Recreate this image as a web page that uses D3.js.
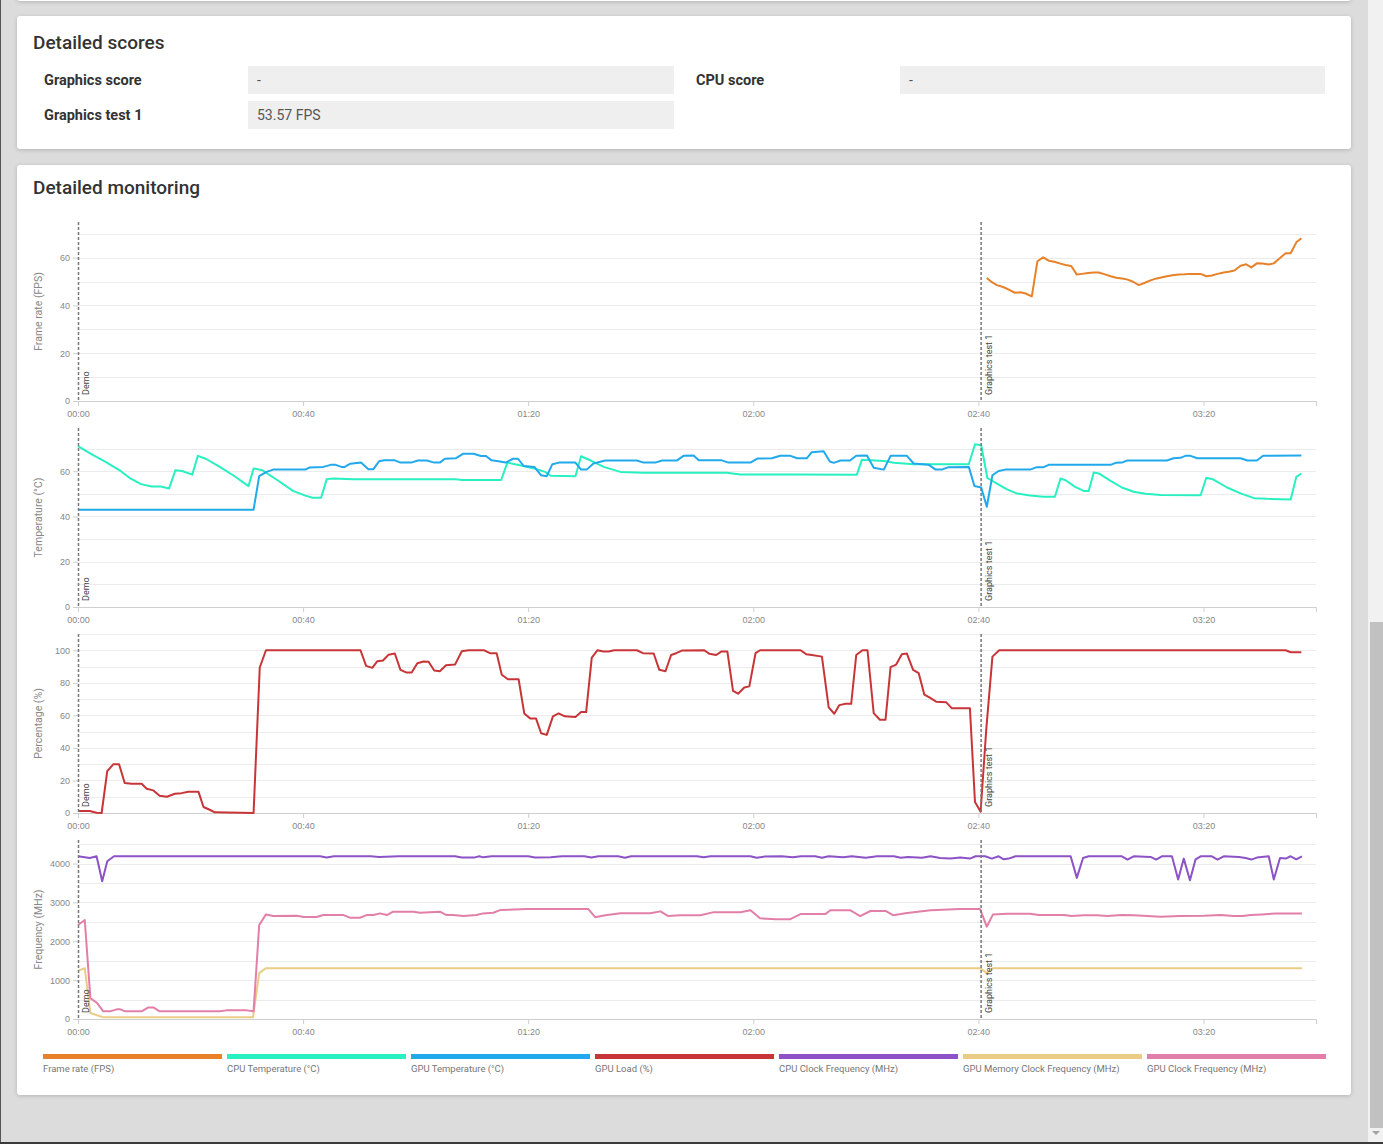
<!DOCTYPE html>
<html lang="en">
<head>
<meta charset="UTF-8">
<title>Detailed monitoring</title>
<script src="https://cdn.jsdelivr.net/npm/d3@7"></script>
<style>
html, body { margin: 0; padding: 0; }
body { width: 1383px; height: 1144px; background: #dcdcdc; position: relative; overflow: hidden; font-family: Roboto, "Open Sans", sans-serif; }
.panel { position: absolute; left: 17px; width: 1334px; background: #fff; border-radius: 3px; box-shadow: 0 1px 4px rgba(0,0,0,0.18); }
.title { position: absolute; left: 16px; font-size: 19px; font-weight: 500; color: #333; line-height: 24px; }
.lbl { position: absolute; font-size: 14.5px; font-weight: 700; color: #333; line-height: 28px; }
.box { position: absolute; height: 28px; background: #efefef; font-size: 14px; color: #555; line-height: 28px; padding-left: 9px; box-sizing: border-box; }
#scroll { position: absolute; left: 1368px; top: 0; width: 15px; height: 1144px; background: #f1f1f1; }
#thumb { position: absolute; left: 2px; top: 622px; width: 13px; height: 506px; background: #c1c1c1; }
#arrow { position: absolute; left: 4px; top: 1131px; width: 0; height: 0; border-left: 4px solid transparent; border-right: 4px solid transparent; border-top: 4px solid #a3a3a3; }
#edgeB { position: absolute; left: 0; bottom: 0; width: 1383px; height: 2px; background: #3a3a3a; }
#edgeL { position: absolute; left: 0; top: 0; width: 1px; height: 1144px; background: #555; }
</style>
</head>
<body>
<div class="panel" style="top:-30px; height:31px;"></div>

<div class="panel" id="scores" style="top:16px; height:133px;">
  <div class="title" style="top:15px;">Detailed scores</div>
  <div class="lbl" style="left:27px; top:51px;">Graphics score</div>
  <div class="box" style="left:231px; top:50px; width:426px;">-</div>
  <div class="lbl" style="left:679px; top:51px;">CPU score</div>
  <div class="box" style="left:883px; top:50px; width:425px;">-</div>
  <div class="lbl" style="left:27px; top:86px;">Graphics test 1</div>
  <div class="box" style="left:231px; top:85px; width:426px;">53.57 FPS</div>
</div>

<div class="panel" id="monitor" style="top:165px; height:930px;">
  <div class="title" style="top:11px;">Detailed monitoring</div>
</div>

<div id="scroll"><div id="thumb"></div><div id="arrow"></div></div>
<div id="edgeL"></div>
<div id="edgeB"></div>

<script>
// samples are [seconds, value]
const fps = [[161.5,51.5],[162.4,49.7],[163.3,48.5],[164.5,47.6],[165.4,46.6],[166.5,45.3],[167.5,45.5],[168.4,45.0],[169.5,43.8],[170.5,58.5],[171.5,60.1],[172.5,58.7],[173.5,58.3],[174.6,57.5],[175.5,56.9],[176.5,56.5],[177.5,52.9],[178.4,53.2],[179.5,53.6],[180.5,53.8],[181.4,53.8],[182.5,53.0],[183.5,52.2],[184.5,51.6],[185.5,51.3],[186.4,50.9],[187.5,49.9],[188.5,48.5],[189.6,49.5],[190.6,50.5],[191.5,51.2],[192.5,51.7],[193.5,52.2],[194.5,52.6],[195.6,52.9],[196.6,53.0],[197.7,53.2],[198.6,53.2],[199.5,53.2],[200.5,52.2],[201.5,52.5],[202.5,53.2],[203.6,53.8],[204.5,54.1],[205.5,54.6],[206.6,56.6],[207.6,57.2],[208.5,55.9],[209.5,57.6],[210.5,57.5],[211.6,57.1],[212.5,57.6],[213.5,59.6],[214.6,61.8],[215.5,61.8],[216.5,66.4],[217.4,68.1]];

const cpuTemp = [[0,71.1],[2.3,67.7],[4.9,64.1],[7.4,60.4],[9.3,56.8],[11.2,54.3],[13.1,53.2],[14.7,53.2],[16.2,52.4],[17.3,60.4],[18.5,60.1],[20.3,58.5],[21.3,66.8],[22.7,65.5],[25.2,61.9],[27.7,58.0],[30.3,53.4],[31.2,61.2],[32.8,60.4],[35.4,56.1],[38.2,51.3],[40.4,49.2],[41.7,48.3],[43.2,48.3],[44.2,56.5],[45.5,56.8],[48.7,56.4],[67.1,56.4],[68.3,56.1],[75.2,56.1],[76.3,63.8],[78.5,62.6],[81.1,61.2],[83.0,59.7],[84.0,58.0],[88.4,57.8],[89.4,66.6],[91.3,64.5],[93.4,61.9],[96.4,59.7],[100.5,59.3],[115.3,59.3],[117.7,58.5],[127.2,58.5],[138.4,58.4],[139.3,65.1],[143.2,64.5],[145,63.7],[148.5,63.1],[158.3,63.1],[159.4,71.9],[160.5,71.5],[161.6,57.0],[163.3,54.5],[165.1,52.0],[166.9,50.1],[169.2,49.3],[171.6,48.7],[173.6,48.7],[174.6,56.8],[175.5,56.0],[177.2,53.1],[178.7,51.3],[179.6,51.2],[180.5,59.4],[181.4,59.0],[183.5,55.7],[185.5,52.8],[187.6,50.9],[189.7,50.0],[192.4,49.5],[199.5,49.4],[200.5,57.1],[201.8,56.3],[204.2,52.8],[206.6,50.2],[209,48.1],[211.3,47.8],[215.5,47.5],[216.5,57.5],[217.4,59.0]];

const gpuTemp = [[0,43],[31.2,43],[32.2,57.8],[33.5,59.7],[34.7,60.7],[40.4,60.7],[41.1,61.6],[43.6,61.9],[44.9,62.8],[45.8,62.8],[46.8,61.9],[47.4,61.9],[48.4,63.3],[50.3,63.8],[51.6,60.9],[52.5,60.9],[53.5,64.4],[54.4,64.8],[56.3,64.8],[57.3,63.8],[59.2,63.8],[60.4,64.7],[62.0,64.7],[63.3,63.8],[64.3,63.8],[65.2,65.5],[67.1,65.7],[68.4,67.7],[70.3,67.7],[71.6,66.7],[72.5,66.7],[73.5,64.8],[74.7,64.4],[76.0,63.8],[77.3,65.5],[78.2,65.5],[79.2,62.3],[81.1,61.9],[82.3,58.2],[83.3,57.8],[84.3,63.1],[85.5,63.8],[88.4,63.8],[89.4,60.7],[90.4,60.7],[91.6,63.4],[93.7,64.7],[99.3,64.7],[100.5,63.8],[102.6,63.8],[103.8,64.7],[106.4,64.7],[107.6,66.8],[109.4,66.9],[110.3,64.8],[114.4,64.8],[115.6,63.8],[119.5,63.8],[120.7,65.6],[123.3,65.7],[124.8,66.8],[126.6,66.8],[127.8,65.7],[129.5,65.7],[130.4,68.4],[132.5,68.8],[133.6,64.3],[134.3,63.7],[135.5,64.7],[137.2,64.7],[138.3,66.8],[140.2,66.9],[141.4,61.5],[143.2,60.7],[144.4,66.8],[147.3,66.8],[148.5,63.4],[151.2,62.8],[152.4,60.7],[153.5,60.7],[154.7,61.8],[158.3,61.9],[159.3,53.5],[160.5,52.8],[161.5,44.3],[162.5,58.2],[163.6,60.1],[164.8,60.7],[169.2,60.7],[170.4,61.8],[171.6,61.8],[172.5,62.8],[183.5,62.8],[184.4,63.7],[185.5,63.8],[186.4,64.7],[193.5,64.7],[194.7,65.7],[195.9,65.9],[196.8,66.8],[197.7,66.8],[198.9,65.7],[206.6,65.7],[207.8,64.7],[209.5,64.7],[210.6,66.8],[217.4,66.9]];

const gpuLoad = [[0,1.2],[2.1,1.2],[3.3,0.2],[4.2,0],[5.2,25.7],[6.3,30],[7.3,30],[8.3,18.4],[9.5,18],[11.3,18],[12.2,14.9],[13.4,13.9],[14.5,10.6],[15.8,10],[17.2,11.8],[18.4,12.2],[19.6,13.1],[21.4,13.1],[22.3,3.7],[23.4,2.0],[24.3,0.4],[31.2,0],[32.3,89.4],[33.4,100],[50.2,100],[51.2,90.4],[52.3,89.2],[53.2,93.3],[54.2,93.7],[55.2,97.3],[56.3,98],[57.3,88],[58.4,86.3],[59.3,86.3],[60.3,92],[61.4,93.1],[62.3,92.9],[63.3,87.6],[64.3,87.1],[65.4,90.8],[67.0,91.2],[68.2,99.4],[69.4,100],[72.2,100],[73.2,98.2],[74.4,98.2],[75.3,85],[76.4,82.2],[78.3,82.2],[79.3,61.2],[80.4,58],[81.4,58],[82.3,49],[83.3,48],[84.4,59.4],[85.4,61.2],[86.5,59.4],[88.4,59],[89.4,62],[90.3,62],[91.3,95.5],[92.3,100],[93.4,99.2],[94.3,99.2],[95.3,100],[99.3,100],[100.4,98.2],[102.3,98],[103.3,88],[104.4,87.1],[105.4,97.1],[106.3,98.2],[107.3,99.8],[111.3,100],[112.2,97.8],[113.4,97.1],[114.3,99.2],[115.4,99.2],[116.4,75.1],[117.3,73.3],[118.4,77.1],[119.3,77.8],[120.4,98.2],[121.2,100],[128.4,100],[129.4,97.6],[130.4,97.1],[132.2,96.1],[133.4,64.9],[134.4,61],[135.3,66.3],[136.4,67.1],[137.4,67.1],[138.3,97.1],[139.4,100],[140.3,100],[141.4,61.4],[142.5,57.3],[143.5,57.3],[144.4,89.6],[145.4,91.2],[146.4,97.6],[147.3,98],[148.4,88],[149.4,85.9],[150.4,72.7],[151.3,71],[152.5,68.4],[154.3,68],[155.3,64.3],[158.5,64.3],[159.4,6.7],[160.4,0.8],[161.4,51.2],[162.5,96.1],[163.7,100],[214.6,100],[215.5,98.8],[217.4,98.8]];

const cpuClock = [[0,4188],[2.1,4145],[3.3,4188],[4.3,3547],[5.2,4060],[6.4,4188],[43,4188],[44.2,4154],[45.5,4188],[52,4188],[53.5,4171],[57,4188],[67,4188],[68.2,4154],[70.4,4154],[71.3,4188],[72,4160],[73.5,4188],[80,4188],[81.2,4154],[84,4160],[86,4188],[90,4188],[91.2,4154],[92.5,4188],[96,4188],[97.2,4150],[98.3,4188],[110,4188],[111.2,4160],[112.4,4188],[119.5,4188],[120.6,4150],[122,4180],[125,4188],[127,4160],[128.5,4188],[131,4188],[132.2,4150],[133.4,4188],[136,4160],[137.5,4188],[140,4150],[142,4188],[145,4188],[146.2,4150],[147.5,4170],[150,4150],[151.5,4188],[153.2,4145],[155.0,4128],[156.8,4154],[158.5,4128],[159.5,4188],[161.2,4188],[162.4,4128],[163.6,4188],[164.5,4111],[165.4,4128],[166.6,4188],[176.4,4188],[177.5,3632],[178.6,4145],[179.6,4188],[185.5,4188],[186.5,4103],[187.6,4188],[190.6,4171],[191.6,4103],[192.6,4188],[194.4,4188],[195.5,3590],[196.5,4128],[197.6,3573],[198.6,4111],[199.5,4188],[201.5,4188],[202.5,4103],[203.6,4188],[206.3,4171],[207.5,4145],[208.5,4103],[209.5,4154],[211.6,4188],[212.5,3590],[213.6,4145],[214.6,4128],[215.5,4188],[216.5,4111],[217.5,4188]];

const gpuMemClock = [[0,1239],[1.2,1308],[2.2,154],[4.5,43],[31.1,43],[32.2,1180],[33.4,1308],[160.3,1308],[161.5,1180],[162.6,1308],[217.5,1308]];

const gpuClock = [[0,2419],[1.2,2547],[2.2,538],[3.4,410],[4.5,197],[5.7,197],[6.9,248],[7.5,248],[8.4,197],[11.3,197],[12.5,299],[13.4,299],[14.5,197],[25.2,197],[26.4,222],[30,222],[31.2,197],[32.2,2419],[33.4,2692],[34.7,2650],[38.9,2658],[40.1,2624],[42.4,2624],[43.6,2675],[47.2,2675],[48.3,2607],[50.1,2607],[51.3,2675],[52.5,2675],[53.7,2718],[54.9,2675],[56.0,2761],[59.6,2761],[60.8,2735],[64.3,2761],[65.5,2675],[66.7,2675],[68.5,2650],[70.8,2675],[72.0,2718],[73.8,2735],[75.0,2803],[79.8,2829],[90.7,2829],[91.9,2620],[93.7,2670],[96.4,2720],[101.7,2720],[103.5,2770],[104.9,2650],[107,2670],[110.6,2670],[113,2750],[117.7,2750],[119.5,2800],[121.2,2590],[124,2570],[126.6,2570],[128.4,2700],[132.8,2700],[133.7,2800],[137.2,2800],[139,2650],[140.8,2780],[143.5,2780],[144.9,2670],[147,2720],[151.5,2800],[156.8,2829],[160.3,2829],[161.5,2376],[162.6,2692],[165.1,2709],[169.2,2709],[170.7,2675],[175.2,2675],[176.6,2650],[178.7,2667],[181.1,2667],[182.9,2650],[185.5,2675],[187.6,2667],[190.0,2650],[192.3,2632],[195.9,2650],[200.1,2658],[203.0,2675],[205.4,2650],[206.9,2650],[208.4,2675],[210.4,2692],[213.1,2718],[217.5,2718]];

const seriesNames = ["Frame rate (FPS)", "CPU Temperature (°C)", "GPU Temperature (°C)", "GPU Load (%)", "CPU Clock Frequency (MHz)", "GPU Memory Clock Frequency (MHz)", "GPU Clock Frequency (MHz)"];
const seriesData = [fps, cpuTemp, gpuTemp, gpuLoad, cpuClock, gpuMemClock, gpuClock];
const seriesColors = ["#e8822a", "#28f0c0", "#22a9ec", "#c83538", "#8c52c6", "#eacc86", "#e27fa8"];

const chartTitles = ["Frame rate (FPS)", "Temperature (°C)", "Percentage (%)", "Frequency (MHz)"];
const chartSeries = [[0], [1, 2], [3], [4, 5, 6]];
const chartTickStep = [20, 20, 20, 1000];

const markerNames = ["Demo", "Graphics test 1"];
const markerTimes = [0, 160.4];
const timeTicks = [0, 40, 80, 120, 160, 200];
const timeEnd = 220;

const svg = d3.select("#monitor").append("svg")
    .attr("width", 1334).attr("height", 930)
    .style("position", "absolute").style("left", 0).style("top", 0)
    .style("font-family", "Roboto, 'Open Sans', sans-serif");

const x = d3.scaleLinear().domain([0, timeEnd]).range([61, 1299]);
const two = d3.format("02d");
const mmss = s => two(Math.floor(s / 60)) + ":" + two(s % 60);

chartTitles.forEach((title, i) => {
    const bottom = 236 + 206 * i;
    const top = bottom - 179;
    const ymax = d3.max(chartSeries[i], k => d3.max(seriesData[k], d => d[1])) * 1.1;
    const y = d3.scaleLinear().domain([0, ymax]).range([bottom, top]);
    const step = chartTickStep[i];
    const g = svg.append("g");

    // grid every half tick step
    g.selectAll("line.grid")
        .data(d3.range(step / 2, ymax, step / 2))
        .join("line")
        .attr("x1", x(0)).attr("x2", x(timeEnd))
        .attr("y1", d => Math.round(y(d)) + 0.5).attr("y2", d => Math.round(y(d)) + 0.5)
        .attr("stroke", "#ebebeb");

    const xa = g.append("g")
        .attr("transform", `translate(0,${bottom})`)
        .call(d3.axisBottom(x).tickValues(timeTicks).tickFormat(mmss).tickSize(5).tickPadding(5));
    xa.select(".domain").attr("stroke", "#cfcfcf");
    xa.selectAll(".tick line").attr("stroke", "#cfcfcf");
    xa.selectAll("text").attr("fill", "#888").style("font-size", "9px");

    const ya = g.append("g")
        .attr("transform", `translate(${x(0)},0)`)
        .call(d3.axisLeft(y).tickValues(d3.range(0, ymax, step)).tickFormat(d3.format("d")).tickSize(5).tickPadding(3));
    ya.select(".domain").remove();
    ya.selectAll(".tick line").attr("stroke", "#cfcfcf");
    ya.selectAll("text").attr("fill", "#888").style("font-size", "9px");

    g.append("text")
        .attr("transform", `translate(25,${(top + bottom) / 2}) rotate(-90)`)
        .attr("text-anchor", "middle")
        .attr("fill", "#888")
        .style("font-size", "10.5px")
        .text(title);

    const line = d3.line().x(d => x(d[0])).y(d => y(d[1]));
    chartSeries[i].forEach(k => {
        g.append("path")
            .attr("d", line(seriesData[k]))
            .attr("fill", "none")
            .attr("stroke", seriesColors[k])
            .attr("stroke-width", 2)
            .attr("stroke-linejoin", "round");
    });

    markerTimes.forEach((t, m) => {
        g.append("line")
            .attr("x1", x(t) + 0.5).attr("x2", x(t) + 0.5)
            .attr("y1", top).attr("y2", bottom)
            .attr("stroke", "#777")
            .attr("stroke-width", 1.5)
            .attr("stroke-dasharray", "3,2");
        g.append("text")
            .attr("transform", `translate(${x(t) + 11},${bottom - 6}) rotate(-90)`)
            .attr("fill", "#444")
            .style("font-size", "9px")
            .text(markerNames[m]);
    });
});

// legend
const band = d3.scaleBand().domain(seriesNames).range([26, 1309]).paddingInner(0.027);
const lg = svg.append("g").selectAll("g").data(seriesNames).join("g")
    .attr("transform", d => `translate(${band(d)},0)`);
lg.append("rect")
    .attr("y", 889).attr("width", band.bandwidth()).attr("height", 5)
    .attr("fill", (d, k) => seriesColors[k]);
lg.append("text")
    .attr("y", 907)
    .attr("fill", "#777")
    .style("font-size", "9.5px")
    .text(d => d);
</script>
</body>
</html>
